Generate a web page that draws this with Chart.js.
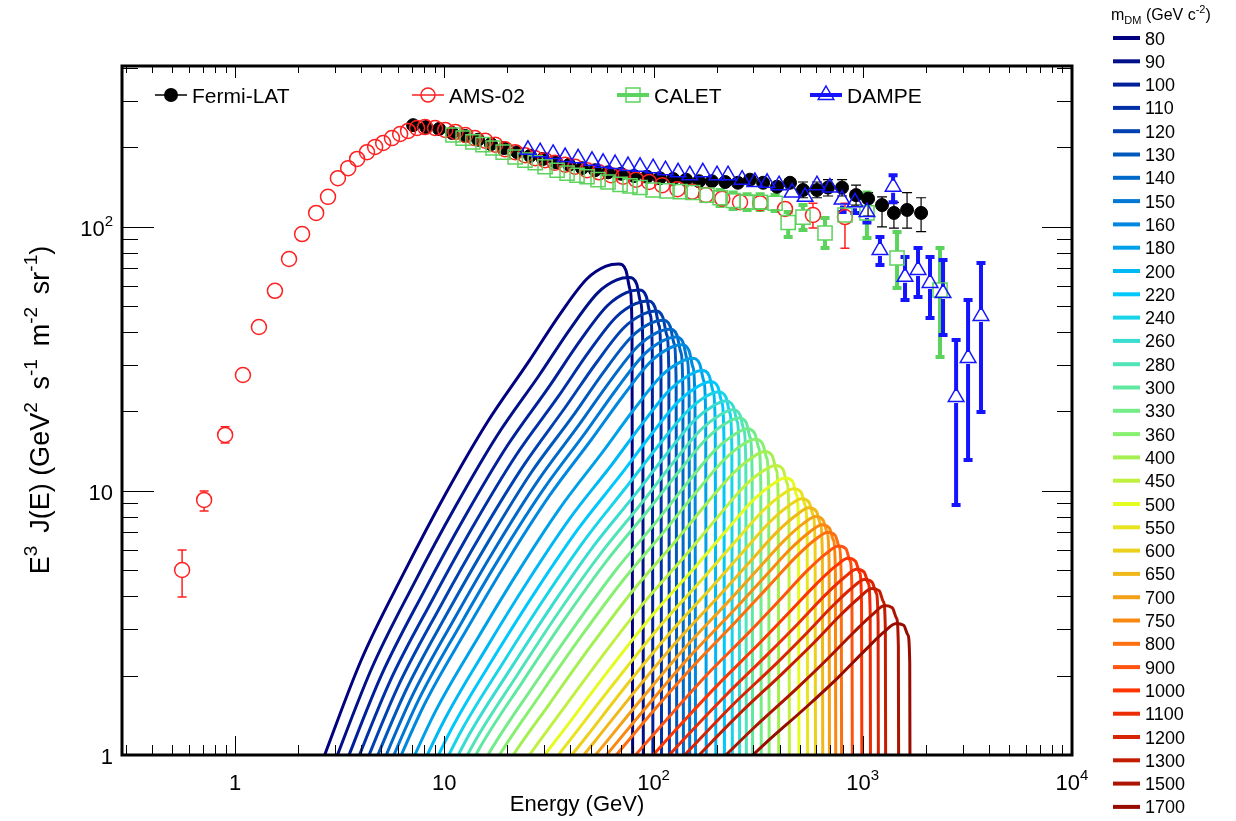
<!DOCTYPE html>
<html>
<head>
<meta charset="utf-8">
<script src="https://cdn.jsdelivr.net/npm/chart.js@4.4.1/dist/chart.umd.min.js"></script>
<style>
  html, body { margin: 0; padding: 0; background: #fff; }
</style>
</head>
<body>
<canvas id="myChart" width="1236" height="821"></canvas>
<script>
// ---- values ----
const fermiEnergy = [7.09, 8.18, 9.44, 10.9, 12.6, 14.5, 16.7, 19.3, 22.3, 25.7, 29.6, 34.2, 39.5, 45.5, 52.5, 60.6, 69.9, 80.7, 93.1, 107,
  124, 143, 165, 190, 220, 253, 289, 334, 389, 449, 518, 604, 682, 796, 929, 1060, 1236, 1409, 1628, 1900];
const fermiFlux = [243, 239, 235, 227, 221, 214, 206, 199, 192, 186, 181, 176, 172, 167, 164, 161, 159, 156, 155, 153,
  152, 151, 149, 149, 148, 147, 151, 147, 142, 147, 138, 138, 141, 141, 132, 128, 121, 113, 116, 113];
const fermiErrEnergy = [518, 604, 682, 796, 929, 1060, 1236, 1409, 1628, 1900];
const fermiErrLow = [129, 129, 131, 131, 121, 110, 100, 99, 99, 96];
const fermiErrHigh = [148, 148, 151, 151, 144, 135, 130, 124, 135, 129];

const amsEnergy = [0.558, 0.711, 0.896, 1.09, 1.30, 1.55, 1.81, 2.09, 2.44, 2.78, 3.10, 3.47, 3.83, 4.27, 4.67, 5.10, 5.62, 6.15, 6.71, 7.41,
  8.09, 9.03, 10.1, 11.3, 12.6, 14.0, 15.7, 17.5, 19.5, 21.8, 24.3, 27.2, 30.3, 33.8, 37.8, 42.2, 48.1, 54.9, 62.6, 71.5,
  82.5, 95.2, 110, 130, 153, 178, 213, 259, 323, 425, 578, 822];
const amsFlux = [5.02, 9.25, 16.3, 27.5, 41.8, 57.3, 75.6, 94.0, 113, 130, 153, 167, 181, 192, 201, 208, 217, 225, 231, 237,
  239, 237, 233, 229, 223, 217, 212, 205, 197, 192, 187, 182, 179, 175, 172, 169, 164, 161, 157, 155,
  151, 148, 144, 139, 136, 132, 128, 124, 123, 117, 111, 109];
const amsErrEnergy = [0.558, 0.711, 0.896, 578, 822];
const amsErrLow = [3.97, 8.4, 15.2, 99, 83];
const amsErrHigh = [5.98, 10.0, 17.5, 123, 123];

const caletEnergy = [11.0, 12.3, 13.7, 15.3, 17.1, 19.1, 21.8, 24.3, 27.2, 30.3, 34.6, 38.6, 43.1, 48.1, 54.3, 60.6, 69.2, 77.2,
  86.2, 99.5, 116, 134, 154, 180, 208, 240, 280, 323, 381, 440, 518, 660, 822, 1047, 1458, 2340];
const caletFlux = [223, 217, 210, 205, 199, 192, 184, 179, 175, 169, 164, 160, 157, 155, 151, 148, 145, 143,
  141, 138, 137, 136, 135, 132, 129, 126, 124, 124, 123, 104, 109, 94.9, 111, 113, 76.3, 57.7];
const caletErrEnergy = [208, 240, 280, 323, 381, 440, 518, 660, 1047, 1458, 2340];
const caletErrLow = [120, 117, 116, 116, 115, 91.6, 97.4, 83.3, 90.8, 58.7, 32.2];
const caletErrHigh = [138, 135, 133, 133, 132, 114, 121, 108, 135, 95.7, 83.3];

const dampeEnergy = [25.1, 28.7, 33.1, 37.8, 43.6, 50.8, 57.4, 65.5, 75.5, 86.2, 99.5, 114, 131, 149, 172, 201, 227, 265, 305,
  349, 398, 459, 530, 604, 697, 796, 918, 1047, 1208, 1396, 1592, 1837, 2096, 2419, 2793, 3186, 3673];
const dampeFlux = [196, 192, 189, 184, 182, 178, 175, 173, 170, 169, 167, 164, 161, 157, 161, 157, 157, 151, 148,
  147, 144, 135, 130, 144, 141, 127, 124, 114, 81.8, 142, 64.7, 68.7, 61.4, 56.2, 22.7, 31.9, 46.0];
const dampeErrEnergy = [796, 918, 1047, 1208, 1396, 1592, 1837, 2096, 2419, 2793, 3186, 3673];
const dampeErrLow = [114, 113, 104, 71.8, 124, 52.9, 54.3, 45.2, 39.0, 8.85, 13.1, 19.9];
const dampeErrHigh = [138, 135, 126, 91.6, 157, 76.9, 83.3, 76.9, 75.0, 37.3, 52.9, 73.1];

// dark matter spectra: E/m_DM sampling and E^3 J(E)
const dmMass = [80, 90, 100, 110, 120, 130, 140, 150, 160, 180, 200, 220, 240, 260, 280, 300, 330, 360, 400, 450,
  500, 550, 600, 650, 700, 750, 800, 900, 1000, 1100, 1200, 1300, 1500, 1700];
const dmFraction = [0.0316, 0.0501, 0.0794, 0.1259, 0.1995, 0.3162, 0.4467, 0.6026, 0.7413, 0.8511, 0.9226, 0.9661, 0.9863, 1.0];
const dmFlux = [
  [0.885, 2.29, 4.83, 9.66, 18.1, 30.9, 46.8, 63.8, 71.1, 72.4, 68.4, 57.7, 40.7, 0.01],
  [0.847, 2.14, 4.45, 8.77, 16.3, 27.5, 41.4, 56.4, 63.0, 64.3, 60.8, 51.4, 36.5, 0.01],
  [0.813, 2.01, 4.12, 8.04, 14.8, 24.8, 37.2, 50.4, 56.4, 57.7, 54.6, 46.3, 33.0, 0.01],
  [0.785, 1.91, 3.85, 7.45, 13.6, 22.6, 33.7, 45.6, 51.1, 52.4, 49.7, 42.3, 30.1, 0.01],
  [0.760, 1.82, 3.63, 6.93, 12.5, 20.8, 30.8, 41.6, 46.7, 48.0, 45.5, 38.8, 27.8, 0.01],
  [0.740, 1.74, 3.44, 6.50, 11.7, 19.2, 28.4, 38.3, 43.1, 44.3, 42.1, 36.0, 25.8, 0.01],
  [0.718, 1.67, 3.26, 6.12, 10.9, 17.9, 26.3, 35.4, 39.8, 41.0, 39.0, 33.4, 24.0, 0.01],
  [0.701, 1.61, 3.11, 5.79, 10.2, 16.7, 24.5, 33.0, 37.1, 38.3, 36.5, 31.3, 22.6, 0.01],
  [0.684, 1.55, 2.96, 5.48, 9.64, 15.7, 22.9, 30.8, 34.7, 35.8, 34.1, 29.3, 21.2, 0.01],
  [0.655, 1.45, 2.73, 4.98, 8.67, 14.0, 20.3, 27.2, 30.7, 31.8, 30.3, 26.1, 19.0, 0.01],
  [0.630, 1.36, 2.54, 4.58, 7.89, 12.6, 18.2, 24.3, 27.5, 28.6, 27.3, 23.6, 17.2, 0.01],
  [0.607, 1.29, 2.38, 4.24, 7.23, 11.5, 16.5, 22.0, 24.9, 25.9, 24.8, 21.5, 15.7, 0.01],
  [0.587, 1.23, 2.23, 3.94, 6.67, 10.6, 15.1, 20.0, 22.8, 23.7, 22.7, 19.7, 14.5, 0.01],
  [0.570, 1.18, 2.11, 3.69, 6.21, 9.77, 13.9, 18.5, 21.0, 21.9, 21.0, 18.3, 13.5, 0.01],
  [0.555, 1.13, 2.00, 3.48, 5.79, 9.08, 12.9, 17.1, 19.4, 20.3, 19.5, 17.0, 12.5, 0.01],
  [0.541, 1.09, 1.91, 3.29, 5.45, 8.51, 12.0, 15.9, 18.1, 18.9, 18.2, 15.9, 11.7, 0.01],
  [0.522, 1.03, 1.79, 3.04, 5.00, 7.74, 10.9, 14.4, 16.4, 17.2, 16.5, 14.5, 10.7, 0.01],
  [0.505, 0.980, 1.68, 2.83, 4.61, 7.11, 9.95, 13.1, 15.0, 15.7, 15.1, 13.3, 9.89, 0.01],
  [0.485, 0.925, 1.56, 2.60, 4.20, 6.41, 8.93, 11.7, 13.4, 14.1, 13.6, 12.0, 8.97, 0.01],
  [0.465, 0.865, 1.44, 2.36, 3.77, 5.71, 7.91, 10.4, 11.9, 12.5, 12.1, 10.7, 8.04, 0.01],
  [0.447, 0.815, 1.33, 2.16, 3.42, 5.15, 7.10, 9.27, 10.6, 11.2, 10.9, 9.64, 7.26, 0.01],
  [0.431, 0.771, 1.25, 2.00, 3.14, 4.70, 6.43, 8.38, 9.64, 10.2, 9.89, 8.79, 6.64, 0.01],
  [0.418, 0.735, 1.17, 1.87, 2.90, 4.32, 5.89, 7.66, 8.81, 9.35, 9.06, 8.09, 6.12, 0.01],
  [0.406, 0.703, 1.11, 1.75, 2.70, 4.00, 5.42, 7.03, 8.11, 8.63, 8.38, 7.48, 5.69, 0.01],
  [0.394, 0.675, 1.05, 1.64, 2.52, 3.72, 5.02, 6.50, 7.52, 8.00, 7.76, 6.95, 5.30, 0.01],
  [0.384, 0.647, 1.00, 1.55, 2.37, 3.47, 4.67, 6.04, 6.98, 7.45, 7.24, 6.50, 4.95, 0.01],
  [0.375, 0.625, 0.959, 1.48, 2.23, 3.26, 4.38, 5.65, 6.55, 6.98, 6.79, 6.11, 4.67, 0.01],
  [0.359, 0.585, 0.883, 1.34, 2.01, 2.90, 3.87, 4.99, 5.79, 6.19, 6.04, 5.45, 4.18, 0.01],
  [0.344, 0.551, 0.818, 1.23, 1.82, 2.62, 3.48, 4.46, 5.19, 5.56, 5.42, 4.91, 3.78, 0.01],
  [0.333, 0.522, 0.766, 1.14, 1.67, 2.39, 3.15, 4.04, 4.70, 5.05, 4.93, 4.47, 3.46, 0.01],
  [0.322, 0.498, 0.721, 1.06, 1.55, 2.19, 2.88, 3.69, 4.30, 4.62, 4.52, 4.11, 3.19, 0.01],
  [0.313, 0.475, 0.682, 0.993, 1.44, 2.03, 2.65, 3.39, 3.95, 4.27, 4.18, 3.80, 2.96, 0.01],
  [0.296, 0.439, 0.615, 0.881, 1.26, 1.76, 2.29, 2.91, 3.40, 3.68, 3.61, 3.30, 2.58, 0.01],
  [0.275, 0.398, 0.550, 0.776, 1.10, 1.52, 1.96, 2.49, 2.92, 3.15, 3.10, 2.85, 2.24, 0.01]
];
const dmColors = ['#000080', '#001088', '#00209a', '#0030a6', '#0040b0', '#0058bc', '#0068c8', '#0078d4', '#0088de', '#00a0e8',
  '#00b8f4', '#00c8fc', '#18d4e8', '#38dcd0', '#50e4b8', '#60e8a0', '#74ec88', '#88f070', '#a4f050', '#c0f040',
  '#e4fc20', '#e8e420', '#ecd01c', '#f0b818', '#f4a018', '#f88810', '#fc7010', '#ff5410', '#ff3400', '#ec2c04',
  '#d82404', '#c41c00', '#ac1400', '#980c00'];

const xTickValues = [1, 10, 100, 1000, 10000];
const xTickText = [['1', ''], ['10', ''], ['10', '2'], ['10', '3'], ['10', '4']];
const yTickValues = [1, 10, 100];
const yTickText = [['1', ''], ['10', ''], ['10', '2']];

const xMin = 0.288, xMax = 10000, yMin = 1, yMax = 407;
const FONT = '"Liberation Sans", Arial, sans-serif';

const colFermi = '#000000', colAms = '#ff2020', colCalet = '#5cd35c', colDampe = '#1414ff';

function pts(xs, ys) { return xs.map((e, i) => ({x: e, y: ys[i]})); }

function drawRich(ctx, parts, x, y, size, align, supScale) {
  const sc = supScale || 0.68;
  const segs = parts.map(([t, kind]) => {
    const s = kind === 'n' ? size : Math.round(size * sc);
    ctx.font = s + 'px ' + FONT;
    return {t, kind, s, w: ctx.measureText(t).width};
  });
  const total = segs.reduce((a, s) => a + s.w, 0);
  let cx = align === 'center' ? x - total / 2 : align === 'right' ? x - total : x;
  ctx.textAlign = 'left';
  ctx.textBaseline = 'alphabetic';
  segs.forEach(s => {
    ctx.font = s.s + 'px ' + FONT;
    const dy = s.kind === 'sup' ? -size * 0.45 : s.kind === 'sub' ? size * 0.28 : 0;
    ctx.fillText(s.t, cx, y + dy);
    cx += s.w;
  });
}

function marker(ctx, kind, x, y, r, color, lw) {
  ctx.save();
  ctx.strokeStyle = color; ctx.fillStyle = color; ctx.lineWidth = lw;
  ctx.beginPath();
  if (kind === 'dot' || kind === 'ring') ctx.arc(x, y, r, 0, Math.PI * 2);
  if (kind === 'box') ctx.rect(x - r, y - r, 2 * r, 2 * r);
  if (kind === 'tri') {
    ctx.moveTo(x, y - r);
    ctx.lineTo(x + r * 0.866, y + r * 0.5);
    ctx.lineTo(x - r * 0.866, y + r * 0.5);
    ctx.closePath();
  }
  if (kind === 'dot') ctx.fill(); else ctx.stroke();
  ctx.restore();
}

const errSets = [
  {e: fermiErrEnergy, lo: fermiErrLow, hi: fermiErrHigh, xs: fermiEnergy, ys: fermiFlux, color: colFermi, w: 1.2, cap: 10, capW: 1.2, gap: 6},
  {e: amsErrEnergy, lo: amsErrLow, hi: amsErrHigh, xs: amsEnergy, ys: amsFlux, color: colAms, w: 1.5, cap: 9, capW: 1.5, gap: 7},
  {e: caletErrEnergy, lo: caletErrLow, hi: caletErrHigh, xs: caletEnergy, ys: caletFlux, color: colCalet, w: 4, cap: 9, capW: 4, gap: 7},
  {e: dampeErrEnergy, lo: dampeErrLow, hi: dampeErrHigh, xs: dampeEnergy, ys: dampeFlux, color: colDampe, w: 4, cap: 9, capW: 4, gap: 6}
];

const errorBars = {
  id: 'errorBars',
  beforeDatasetsDraw(chart) {
    const {ctx, chartArea: a, scales: {x, y}} = chart;
    ctx.save();
    ctx.beginPath(); ctx.rect(a.left, a.top, a.right - a.left, a.bottom - a.top); ctx.clip();
    errSets.forEach(s => {
      ctx.strokeStyle = s.color;
      s.e.forEach((e, i) => {
        const k = s.xs.indexOf(e);
        const px = x.getPixelForValue(e);
        const pc = y.getPixelForValue(s.ys[k]);
        const ph = y.getPixelForValue(s.hi[i]);
        const pl = y.getPixelForValue(s.lo[i]);
        ctx.lineWidth = s.w;
        ctx.beginPath();
        if (ph < pc - s.gap) { ctx.moveTo(px, ph); ctx.lineTo(px, pc - s.gap); }
        if (pl > pc + s.gap) { ctx.moveTo(px, pc + s.gap); ctx.lineTo(px, pl); }
        ctx.stroke();
        ctx.lineWidth = s.capW;
        ctx.beginPath();
        if (ph < pc - s.gap) { ctx.moveTo(px - s.cap / 2, ph); ctx.lineTo(px + s.cap / 2, ph); }
        if (pl > pc + s.gap) { ctx.moveTo(px - s.cap / 2, pl); ctx.lineTo(px + s.cap / 2, pl); }
        ctx.stroke();
      });
    });
    ctx.restore();
  }
};

const frame = {
  id: 'frame',
  afterDraw(chart) {
    const {ctx, chartArea: a, scales: {x, y}} = chart;
    ctx.save();
    ctx.strokeStyle = '#000';
    ctx.lineWidth = 1;
    ctx.beginPath();
    for (let d = -1; d < 5; d++) {
      for (let k = 1; k < 10; k++) {
        const v = k * Math.pow(10, d);
        if (v < xMin || v > xMax * 1.001) continue;
        const px = Math.round(x.getPixelForValue(v)) + 0.5;
        const big = k === 1;
        ctx.moveTo(px, a.bottom); ctx.lineTo(px, a.bottom - (big ? 19 : 10));
        ctx.moveTo(px, a.top); ctx.lineTo(px, a.top + (big ? 12 : 7));
      }
    }
    for (let d = 0; d < 3; d++) {
      for (let k = 1; k < 10; k++) {
        const v = k * Math.pow(10, d);
        if (v > yMax) continue;
        const py = Math.round(y.getPixelForValue(v)) + 0.5;
        const big = k === 1;
        ctx.moveTo(a.left, py); ctx.lineTo(a.left + (big ? 32 : 16), py);
        ctx.moveTo(a.right, py); ctx.lineTo(a.right - (big ? 30 : 15), py);
      }
    }
    ctx.stroke();
    ctx.lineWidth = 3;
    ctx.strokeRect(a.left, a.top, a.right - a.left, a.bottom - a.top);

    ctx.fillStyle = '#000';
    xTickValues.forEach((v, i) => {
      const [base, sup] = xTickText[i];
      const parts = sup ? [[base, 'n'], [sup, 'sup']] : [[base, 'n']];
      drawRich(ctx, parts, x.getPixelForValue(v), 790, 22, 'center');
    });
    yTickValues.forEach((v, i) => {
      const [base, sup] = yTickText[i];
      const parts = sup ? [[base, 'n'], [sup, 'sup']] : [[base, 'n']];
      drawRich(ctx, parts, 113, y.getPixelForValue(v) + 9, 22, 'right');
    });

    drawRich(ctx, [['Energy (GeV)', 'n']], 577, 811, 22, 'center');
    ctx.save();
    ctx.translate(49, 410);
    ctx.rotate(-Math.PI / 2);
    drawRich(ctx, [['E', 'n'], ['3 ', 'sup'], [' J(E) (GeV', 'n'], ['2 ', 'sup'], [' s', 'n'], ['-1 ', 'sup'],
      [' m', 'n'], ['-2 ', 'sup'], [' sr', 'n'], ['-1', 'sup'], [')', 'n']], 0, 0, 27, 'center', 0.72);
    ctx.restore();
    ctx.restore();
  }
};

const legends = {
  id: 'legends',
  afterDraw(chart) {
    const ctx = chart.ctx;
    ctx.save();
    const top = [
      {label: 'Fermi-LAT', x: 155, color: colFermi, kind: 'dot', lw: 1.5, r: 7},
      {label: 'AMS-02', x: 412, color: colAms, kind: 'ring', lw: 1.5, r: 7},
      {label: 'CALET', x: 617, color: colCalet, kind: 'box', lw: 4, r: 7},
      {label: 'DAMPE', x: 810, color: colDampe, kind: 'tri', lw: 4, r: 9}
    ];
    const ly = 95;
    top.forEach(t => {
      ctx.strokeStyle = t.color; ctx.lineWidth = t.lw;
      ctx.beginPath(); ctx.moveTo(t.x, ly); ctx.lineTo(t.x + 32, ly); ctx.stroke();
      marker(ctx, t.kind, t.x + 16, ly, t.r, t.color, t.kind === 'dot' ? 1 : 1.5);
      ctx.fillStyle = '#000';
      drawRich(ctx, [[t.label, 'n']], t.x + 37, ly + 7.5, 21, 'left');
    });

    ctx.fillStyle = '#000';
    drawRich(ctx, [['m', 'n'], ['DM', 'sub'], [' (GeV c', 'n'], ['-2', 'sup'], [')', 'n']], 1111, 20, 16, 'left');
    dmMass.forEach((m, i) => {
      const yy = 38 + i * 23.3;
      ctx.strokeStyle = dmColors[i]; ctx.lineWidth = 4;
      ctx.beginPath(); ctx.moveTo(1113, yy); ctx.lineTo(1140, yy); ctx.stroke();
      ctx.fillStyle = '#000';
      drawRich(ctx, [[String(m), 'n']], 1145, yy + 6.5, 18, 'left');
    });
    ctx.restore();
  }
};

// marker series: DAMPE on top, Fermi-LAT underneath
const datasets = [
  {label: 'DAMPE', data: pts(dampeEnergy, dampeFlux), showLine: false, pointStyle: 'triangle', pointRadius: 9,
    pointBackgroundColor: 'rgba(0,0,0,0)', pointBorderColor: colDampe, pointBorderWidth: 1.5, order: 0},
  {label: 'CALET', data: pts(caletEnergy, caletFlux), showLine: false, pointStyle: 'rect', pointRadius: 10,
    pointBackgroundColor: 'rgba(0,0,0,0)', pointBorderColor: colCalet, pointBorderWidth: 1.5, order: 1},
  {label: 'AMS-02', data: pts(amsEnergy, amsFlux), showLine: false, pointStyle: 'circle', pointRadius: 7.5,
    pointBackgroundColor: 'rgba(0,0,0,0)', pointBorderColor: colAms, pointBorderWidth: 1.5, order: 2},
  {label: 'Fermi-LAT', data: pts(fermiEnergy, fermiFlux), showLine: false, pointStyle: 'circle', pointRadius: 6.5,
    pointBackgroundColor: colFermi, pointBorderColor: colFermi, pointBorderWidth: 1, order: 3}
];
dmMass.forEach((m, i) => {
  datasets.push({
    label: String(m),
    data: dmFraction.map((f, j) => ({x: m * f, y: dmFlux[i][j]})),
    borderColor: dmColors[i],
    borderWidth: 3,
    pointRadius: 0,
    fill: false,
    cubicInterpolationMode: 'monotone',
    order: 100 - i
  });
});

const ctx = document.getElementById('myChart');

new Chart(ctx, {
  type: 'line',
  data: { datasets: datasets },
  options: {
    responsive: false,
    animation: false,
    devicePixelRatio: 1,
    layout: { padding: { left: 122, right: 164, top: 66, bottom: 66 } },
    elements: { line: { capBezierPoints: false } },
    plugins: { legend: { display: false }, tooltip: { enabled: false } },
    scales: {
      x: { type: 'logarithmic', min: xMin, max: xMax, display: false },
      y: { type: 'logarithmic', min: yMin, max: yMax, display: false }
    }
  },
  plugins: [errorBars, frame, legends]
});
</script>
</body>
</html>
